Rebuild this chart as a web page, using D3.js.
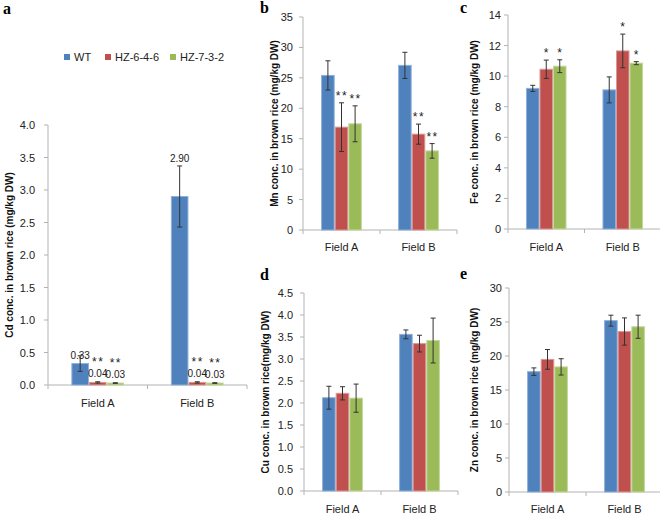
<!DOCTYPE html>
<html lang="en">
<head>
  <meta charset="UTF-8">
  <title>Metal concentrations in brown rice</title>
  <script src="https://d3js.org/d3.v7.min.js"></script>
  <style>
    body { margin: 0; background: #fff; font-family: "Liberation Sans", Arial, sans-serif; }
    .tick-label { font-size: 11px; fill: #222; }
    .cat-label { font-size: 11px; fill: #222; }
    .y-title { font-size: 10px; font-weight: bold; fill: #111; }
    .letter { font-family: "Liberation Serif", "Times New Roman", serif; font-size: 16px; font-weight: bold; }
  </style>
</head>
<body>
  <svg width="660" height="518"></svg>
  <script>
    // categories and series
    const fields = ["Field A", "Field B"];
    const lines = ["WT", "HZ-6-4-6", "HZ-7-3-2"];
    const colors = ["#4F81BD", "#C0504D", "#9BBB59"];
    const strokes = ["#8FB0DA", "#DA9896", "#C3D89C"];

    // values per field, per line (WT, HZ-6-4-6, HZ-7-3-2)
    const cdMean = [[0.33, 0.04, 0.03], [2.90, 0.04, 0.03]];
    const cdErr = [[0.12, 0.01, 0.005], [0.47, 0.01, 0.005]];
    const cdText = [["0.33", "0.04", "0.03"], ["2.90", "0.04", "0.03"]];
    const cdStars = [["", "**", "**"], ["", "**", "**"]];

    const mnMean = [[25.4, 16.9, 17.45], [27.05, 15.75, 13.0]];
    const mnErr = [[2.4, 4.0, 2.95], [2.15, 1.65, 1.2]];
    const mnStars = [["", "**", "**"], ["", "**", "**"]];

    const feMean = [[9.2, 10.45, 10.65], [9.1, 11.65, 10.85]];
    const feErr = [[0.2, 0.6, 0.42], [0.85, 1.1, 0.1]];
    const feStars = [["", "*", "*"], ["", "*", "*"]];

    const cuMean = [[2.12, 2.22, 2.11], [3.56, 3.35, 3.42]];
    const cuErr = [[0.26, 0.15, 0.32], [0.1, 0.19, 0.51]];

    const znMean = [[17.7, 19.5, 18.4], [25.2, 23.6, 24.3]];
    const znErr = [[0.55, 1.45, 1.2], [0.8, 2.0, 1.7]];

    // tick values of each y axis
    const cdTicks = d3.range(0, 4.01, 0.5);
    const mnTicks = d3.range(0, 36, 5);
    const feTicks = d3.range(0, 15, 2);
    const cuTicks = d3.range(0, 4.51, 0.5);
    const znTicks = d3.range(0, 31, 5);

    const svg = d3.select("svg");
    const axisColor = "#b3b3b3";

    function drawPanel(p) {
      const g = svg.append("g");
      const y = d3.scaleLinear().domain([0, d3.max(p.ticks)]).range([p.yBot, p.yTop]);
      const x = d3.scaleBand().domain(fields).range([p.x0, p.x1])
                  .paddingInner(0.47).paddingOuter(0.235);
      const xs = d3.scaleBand().domain(lines).range([0, x.bandwidth()]);

      // y axis line + ticks
      g.append("line").attr("x1", p.x0).attr("x2", p.x0).attr("y1", p.yTop).attr("y2", p.yBot)
       .attr("stroke", axisColor);
      p.ticks.forEach(t => {
        g.append("line").attr("x1", p.x0 - 4).attr("x2", p.x0).attr("y1", y(t)).attr("y2", y(t))
         .attr("stroke", axisColor);
        g.append("text").attr("class", "tick-label").attr("x", p.x0 - p.gap).attr("y", y(t) + 4)
         .attr("text-anchor", "end").text(p.fmt(t));
      });

      // x axis line + boundary ticks
      g.append("line").attr("x1", p.x0).attr("x2", p.x1).attr("y1", p.yBot).attr("y2", p.yBot)
       .attr("stroke", axisColor);
      [p.x0, (p.x0 + p.x1) / 2, p.x1].forEach(v => {
        g.append("line").attr("x1", v).attr("x2", v).attr("y1", p.yBot).attr("y2", p.yBot + 4)
         .attr("stroke", axisColor);
      });
      fields.forEach(f => {
        g.append("text").attr("class", "cat-label").attr("x", x(f) + x.bandwidth() / 2)
         .attr("y", p.catY).attr("text-anchor", "middle").text(f);
      });

      // bars, error bars, labels
      fields.forEach((f, i) => {
        lines.forEach((l, j) => {
          const v = p.mean[i][j], e = p.err[i][j];
          const bx = x(f) + xs(l), bw = xs.bandwidth(), cx = bx + bw / 2;
          g.append("rect").attr("x", bx + 0.5).attr("y", y(v)).attr("width", bw - 1)
           .attr("height", p.yBot - y(v)).attr("fill", colors[j])
           .attr("stroke", strokes[j]).attr("stroke-width", 1);
          g.append("line").attr("x1", cx).attr("x2", cx).attr("y1", y(v + e)).attr("y2", y(v - e))
           .attr("stroke", "#333").attr("stroke-width", 1);
          [v + e, v - e].forEach(c => {
            g.append("line").attr("x1", cx - 2.5).attr("x2", cx + 2.5).attr("y1", y(c)).attr("y2", y(c))
             .attr("stroke", "#333").attr("stroke-width", 1);
          });
          if (p.text) {
            const ly = e > 0.3 ? y(v + e) - 4 : y(v) - 5;
            g.append("text").attr("x", cx).attr("y", ly).attr("text-anchor", "middle")
             .style("font-size", "10px").attr("fill", "#222").text(p.text[i][j]);
          }
          if (p.stars && p.stars[i][j]) {
            const sy = p.text ? y(v) - 22 : y(v + e) - 9;
            g.append("text").attr("x", cx + 0.5).attr("y", sy + 6).attr("text-anchor", "middle")
             .style("font-size", "12px").style("letter-spacing", "1.5px")
             .attr("fill", "#222").text(p.stars[i][j]);
          }
        });
      });

      // y title
      g.append("text").attr("class", "y-title")
       .attr("transform", "translate(" + p.titleX + "," + (p.yTop + p.yBot) / 2 + ") rotate(-90)")
       .attr("text-anchor", "middle").text(p.title);

      g.append("text").attr("class", "letter").attr("x", p.letterX).attr("y", p.letterY).text(p.letter);
    }

    const f1 = d3.format(".1f"), f0 = d3.format("d");

    drawPanel({ letter: "a", letterX: 3, letterY: 14, x0: 48, x1: 247, yTop: 125, yBot: 385, gap: 13,
                catY: 407, titleX: 13, ticks: cdTicks, fmt: f1, mean: cdMean, err: cdErr,
                text: cdText, stars: cdStars, title: "Cd conc. in brown rice (mg/kg DW)" });
    drawPanel({ letter: "b", letterX: 260, letterY: 13, x0: 303, x1: 457, yTop: 17, yBot: 230, gap: 10,
                catY: 251, titleX: 278, ticks: mnTicks, fmt: f0, mean: mnMean, err: mnErr,
                stars: mnStars, title: "Mn conc. in brown rice (mg/kg  DW)" });
    drawPanel({ letter: "c", letterX: 460, letterY: 13, x0: 508, x1: 661, yTop: 15, yBot: 229, gap: 7,
                catY: 251, titleX: 478, ticks: feTicks, fmt: f0, mean: feMean, err: feErr,
                stars: feStars, title: "Fe  conc. in brown rice (mg/kg  DW)" });
    drawPanel({ letter: "d", letterX: 260, letterY: 280, x0: 304, x1: 458, yTop: 293, yBot: 491, gap: 11,
                catY: 513, titleX: 269, ticks: cuTicks, fmt: f1, mean: cuMean, err: cuErr,
                title: "Cu conc. in brown rice(mg/kg  DW)" });
    drawPanel({ letter: "e", letterX: 460, letterY: 279, x0: 509, x1: 663, yTop: 288, yBot: 492, gap: 7,
                catY: 513, titleX: 478, ticks: znTicks, fmt: f0, mean: znMean, err: znErr,
                title: "Zn conc. in brown rice (mg/kg  DW)" });

    // legend of panel a
    const legendX = [64, 105, 170];
    lines.forEach((l, j) => {
      svg.append("rect").attr("x", legendX[j]).attr("y", 54).attr("width", 6).attr("height", 6)
         .attr("fill", colors[j]);
      svg.append("text").attr("x", legendX[j] + 10).attr("y", 61).style("font-size", "11px")
         .attr("fill", "#222").text(l);
    });
  </script>
</body>
</html>
